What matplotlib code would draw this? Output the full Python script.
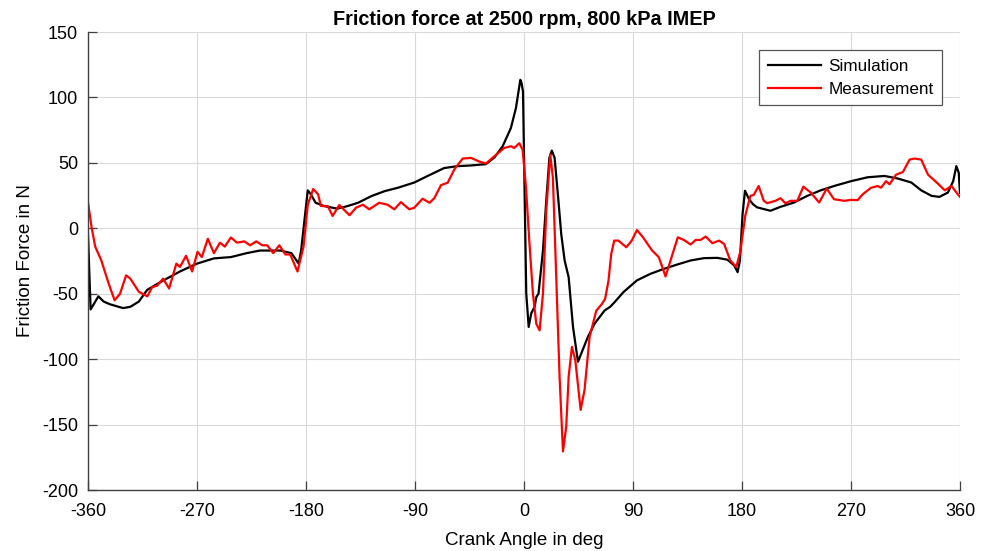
import matplotlib
matplotlib.use("Agg")
import matplotlib.pyplot as plt

# crank angle [deg] / friction force [N]
sim_angle = [
    -360, -357.8, -355.6, -351.4, -347, -342, -331, -325, -318, -311,
    -300, -292, -284, -270, -256, -242, -229, -218, -201, -192,
    -186, -184, -178.5, -176, -172, -165, -154, -145.6, -137, -126,
    -115, -104, -90.5, -79.5, -66, -55, -44, -31.5, -24.5, -17.6,
    -10.8, -6.6, -3, -2, -0.8, 0.55, 1.9, 3.9, 6, 8.8,
    10.2, 12, 15.7, 18.4, 21, 23, 25.3, 28, 30.8, 33.6,
    36.9, 40.5, 44.6, 47.3, 52.8, 58.3, 66.6, 71.2, 74.9, 82.2,
    93.3, 104.4, 115.5, 126.5, 137.6, 148.7, 159.8, 168, 173.6, 176.4,
    178.3, 180.5, 182.5, 186, 189, 192.5, 203.5, 211.8, 223, 234,
    245, 256, 270, 283.8, 297.7, 308.8, 319.8, 328, 336.5, 343,
    350, 354.4, 357, 359, 360,
]
sim_force = [
    -4, -62, -58.6, -52, -56, -58, -61, -60, -56, -47,
    -41, -37, -33, -27, -23, -22, -19, -17, -17, -19,
    -27, -17, 29, 26, 19.5, 17, 15, 17, 19.5, 24.6,
    28.4, 31, 35, 40, 46, 47.5, 48, 49, 54, 62.7,
    76.6, 92, 113.5, 111, 104.6, 26, -50, -75.4, -65, -60,
    -52.6, -50, -17, 21, 53.9, 59.4, 53.9, 26, -4.6, -24.7,
    -37.4, -75.4, -102, -95.7, -83, -72.9, -62.8, -60, -56.4, -48.7,
    -39.8, -34.8, -31, -27.7, -24.6, -22.8, -22.6, -24, -28.4, -33.5,
    -24.6, 10.9, 28.7, 22, 18.5, 16, 13.4, 16.4, 19.7, 24.8,
    29, 32.3, 36, 39, 40, 38, 35, 29, 24.8, 24,
    27.3, 36, 47.5, 42.4, 27,
]

meas_angle = [
    -360, -357, -354, -349, -343, -338, -333.5, -328.5, -325, -318,
    -311, -307, -303, -298, -293, -287, -284, -279, -274, -269.5,
    -266, -261, -256, -251, -247, -242, -237, -231, -226, -221,
    -216, -212, -207, -202, -197, -193, -187, -182, -178.5, -174,
    -170, -167.6, -162, -158, -152.5, -144, -138.7, -133, -127.7, -119.5,
    -112.6, -107, -101.6, -94.7, -90.6, -83.7, -78, -74, -68.5, -63,
    -57.5, -50.6, -43.7, -36.9, -31.4, -24.5, -16.3, -10.8, -8, -3.9,
    -1.1, 1.7, 4.4, 7.4, 10.2, 12.9, 15.7, 18.4, 21.7, 23.9,
    26.7, 29.4, 32.2, 34.9, 36.9, 39.6, 42.4, 46.8, 50, 54.2,
    59.7, 64.2, 67, 69.8, 72, 74.5, 78, 84.5, 89, 93.3,
    98.3, 105.8, 111.3, 116.9, 121, 127, 132, 137.6, 141.8, 145.9,
    150, 155.6, 161, 165.3, 170.3, 175.3, 178.6, 182.8, 187, 189.7,
    193.8, 198, 200.8, 207.7, 211.8, 216, 220, 225.7, 230.7, 236.8,
    243.7, 250, 256, 264.5, 270, 275.5, 279.7, 286.6, 292, 294.8,
    299, 301.8, 307.3, 312.9, 318.4, 322.5, 328, 333.6, 341.9, 347.5,
    353, 357.1, 360,
]
meas_force = [
    20, 0.8, -14, -24.5, -42, -55, -50, -36, -38.5, -48.5,
    -52, -45, -44, -38.5, -46, -27, -29.5, -21, -33, -18,
    -22, -8, -19, -11, -14, -7, -11, -10, -13, -10,
    -13, -13, -19, -13, -20, -20, -33, -14, 18, 30,
    26, 17, 17, 9.4, 17.8, 10, 15.7, 18, 14.5, 19.5,
    18, 14.5, 20, 14.5, 15.7, 22.6, 19.5, 23, 33, 34.8,
    45, 53.3, 53.8, 51, 49.5, 55, 61.4, 62.7, 61.4, 65,
    60, 31, -9.6, -50, -73, -78, -50, 13.3, 56.4, 38.7,
    -37.5, -113.4, -170.5, -151.5, -113.4, -90.6, -100.8, -138.8, -123.6, -83,
    -63, -58, -54, -40, -20, -9.4, -9.4, -14.5, -9.4, -1.3,
    -6.9, -17, -22, -36.8, -24.6, -6.9, -8.9, -12.4, -8.9, -8.9,
    -6.3, -11.4, -9.4, -12, -24.5, -29.5, -18, 10, 24.8, 25.5,
    32.3, 21, 19.2, 21, 23, 19, 21, 21, 31.8, 27.3,
    19.7, 30.3, 22.2, 21, 21.7, 21.5, 26, 31, 32.3, 31,
    36, 33.6, 41, 43, 52.5, 53.3, 52.5, 41, 34, 29,
    32.3, 27.3, 24,
]

x_ticks = [-360, -270, -180, -90, 0, 90, 180, 270, 360]
y_ticks = [-200, -150, -100, -50, 0, 50, 100, 150]

plt.rcParams["font.family"] = ["Liberation Sans", "DejaVu Sans"]
plt.rcParams["axes.unicode_minus"] = False

fig = plt.figure(figsize=(9.86, 5.51), dpi=100)
ax = fig.add_axes([0.0892, 0.1107, 0.8844, 0.8312])

ax.plot(sim_angle, sim_force, color="black", linewidth=1.6, label="Simulation")
ax.plot(meas_angle, meas_force, color="red", linewidth=1.6, label="Measurement")

ax.set_xlim(-360, 360)
ax.set_ylim(-200, 150)
ax.set_xticks(x_ticks)
ax.set_yticks(y_ticks)

# MATLAB-like axes: no box, light grid, inward ticks
for side in ("top", "right"):
    ax.spines[side].set_visible(False)
for side in ("left", "bottom"):
    ax.spines[side].set_color("#404040")
    ax.spines[side].set_linewidth(1.0)
ax.grid(True, color="#d9d9d9", linewidth=0.8)
ax.set_axisbelow(True)
ax.tick_params(axis="both", direction="in", length=6.5, width=0.9,
               color="#404040", labelsize=13, labelcolor="black")
ax.tick_params(axis="x", pad=9)
ax.tick_params(axis="y", pad=7)

ax.set_title("Friction force at 2500 rpm, 800 kPa IMEP", fontsize=14.3,
             fontweight="bold", pad=5)
ax.set_xlabel("Crank Angle in deg", fontsize=13.5, labelpad=9)
ax.set_ylabel("Friction Force in N", fontsize=13.5, labelpad=6)

leg = ax.legend(loc="upper right", bbox_to_anchor=(0.9795, 0.96), fontsize=12.3,
                handlelength=3.1, fancybox=False, framealpha=1,
                borderpad=0.5, labelspacing=0.45, handletextpad=0.45,
                borderaxespad=0)
leg.get_frame().set_edgecolor("#555555")
leg.get_frame().set_linewidth(0.9)

fig.savefig("out.png", dpi=100)
plt.close(fig)
